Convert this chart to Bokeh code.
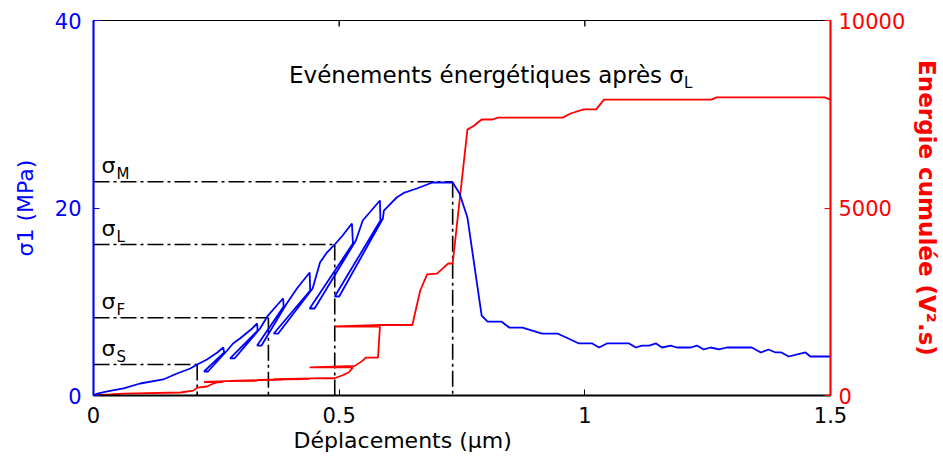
import math
from bokeh.plotting import figure
from bokeh.models import Range1d, LinearAxis, FixedTicker, Label, Title
from bokeh.embed import file_html
from bokeh.resources import INLINE

# ---------------- data ----------------
# stress curve (blue), displacement in µm, stress in MPa
disp_sigma = [0.000, 0.008, 0.028, 0.061, 0.095, 0.142, 0.170, 0.197, 0.211, 0.231, 0.252, 0.264,
              0.266, 0.225, 0.233, 0.272,
              0.284, 0.298, 0.323, 0.333,
              0.334, 0.278, 0.287, 0.339,
              0.355, 0.373, 0.386,
              0.387, 0.333, 0.342, 0.392,
              0.414, 0.440,
              0.441, 0.367, 0.376, 0.446,
              0.461, 0.475, 0.491, 0.507, 0.526,
              0.528, 0.440, 0.450, 0.534,
              0.548, 0.562, 0.583,
              0.584, 0.491, 0.500, 0.589,
              0.591, 0.617, 0.633, 0.658, 0.690, 0.731, 0.745, 0.761, 0.790, 0.802,
              0.830, 0.846, 0.873, 0.913, 0.944, 0.962, 0.988, 1.015, 1.029, 1.045,
              1.090, 1.104, 1.116, 1.131, 1.145, 1.157, 1.175, 1.187, 1.216, 1.228,
              1.242, 1.256, 1.273, 1.289, 1.340, 1.358, 1.374, 1.388, 1.400, 1.415,
              1.449, 1.459, 1.500]
sigma1 = [0.00, 0.21, 0.43, 0.75, 1.28, 1.71, 2.35, 2.88, 3.31, 3.84, 4.59, 5.12,
          4.59, 2.56, 2.56, 4.80,
          5.55, 6.08, 7.15, 7.68,
          6.93, 3.95, 3.95, 7.15,
          8.53, 9.60, 10.35,
          9.49, 5.33, 5.33, 9.71,
          11.41, 13.12,
          11.20, 6.61, 6.61, 11.41,
          14.19, 15.25, 16.11, 17.07, 18.35,
          16.21, 9.28, 9.28, 16.53,
          18.67, 19.52, 20.80,
          18.67, 10.56, 10.56, 18.88,
          19.73, 21.12, 21.65, 22.08, 22.72, 22.72, 21.55, 18.99, 8.53, 7.89,
          7.89, 7.25, 7.25, 6.61, 6.61, 6.19, 5.55, 5.55, 5.12, 5.55,
          5.55, 5.12, 5.33, 5.33, 5.55, 5.12, 5.33, 5.12, 5.12, 5.33,
          4.91, 5.12, 4.91, 5.12, 5.12, 4.59, 4.91, 4.59, 4.59, 4.16,
          4.59, 4.16, 4.16]

# cumulated energy curve (red), V².s
disp_energy = [0.000, 0.061, 0.177, 0.203, 0.211, 0.231, 0.244, 0.252, 0.264, 0.225,
               0.270, 0.333, 0.278, 0.339, 0.386, 0.333, 0.390, 0.440, 0.367, 0.444,
               0.491, 0.507, 0.520, 0.528, 0.440, 0.532, 0.548, 0.554, 0.579, 0.583,
               0.491, 0.587, 0.649, 0.651, 0.665, 0.679, 0.699, 0.711, 0.722, 0.731,
               0.761, 0.775, 0.790, 0.812, 0.823, 0.955, 0.971, 0.998, 1.023, 1.039,
               1.258, 1.268, 1.488, 1.500]
energy = [0, 50, 80, 130, 210, 240, 320, 350, 360, 360,
          385, 390, 390, 410, 415, 415, 430, 435, 435, 455,
          460, 540, 620, 750, 750, 790, 930, 1010, 1010, 1840,
          1840, 1880, 1880, 2000, 2800, 3230, 3250, 3390, 3520, 3520,
          7090, 7200, 7360, 7360, 7410, 7410, 7520, 7630, 7630, 7890,
          7890, 7950, 7950, 7890]

# characteristic stress levels
level_names = ["S", "F", "L", "M"]
level_sigma = [3.3, 8.3, 16.1, 22.8]
level_disp = [0.211, 0.356, 0.491, 0.731]

x_ticks = [0, 0.5, 1, 1.5]
x_tick_labels = ["0", "0.5", "1", "1.5"]
top_ticks = [0.5, 1.0]
left_ticks = [0, 20, 40]
right_ticks = [0, 5000, 10000]

FONT = "DejaVu Sans"
BLUE = "#0000FF"
RED = "#FF0000"

p = figure(width=943, height=459, x_range=Range1d(0, 1.5), y_range=Range1d(0, 40),
           output_backend="svg", toolbar_location=None,
           min_border_left=93, min_border_right=111, min_border_top=20, min_border_bottom=64)
p.extra_y_ranges = {"energy": Range1d(0, 10000)}
p.xgrid.visible = False
p.ygrid.visible = False
p.outline_line_color = "black"
p.outline_line_width = 1.2
p.background_fill_color = "white"
p.border_fill_color = "white"

# bottom axis
xa = p.xaxis[0]
xa.ticker = FixedTicker(ticks=x_ticks)
xa.major_label_overrides = {t: l for t, l in zip(x_ticks, x_tick_labels)}
xa.minor_tick_line_color = None
xa.major_tick_in = 6
xa.major_tick_out = 0
xa.axis_line_width = 2
xa.axis_line_color = "black"
xa.major_tick_line_color = "black"
xa.major_label_text_font = FONT
xa.major_label_text_font_size = "21px"
xa.major_label_text_color = "black"
xa.major_label_standoff = 11

# x axis title, left of centre as in the original
p.add_layout(Title(text="Déplacements (µm)", align="left", offset=200, standoff=0,
                   text_font=FONT, text_font_size="22px", text_font_style="normal",
                   text_color="black"), "below")

# left axis
ya = p.yaxis[0]
ya.ticker = FixedTicker(ticks=left_ticks)
ya.minor_tick_line_color = None
ya.major_tick_in = 6
ya.major_tick_out = 0
ya.axis_line_color = BLUE
ya.axis_line_width = 2
ya.major_tick_line_color = BLUE
ya.major_label_text_color = BLUE
ya.major_label_text_font = FONT
ya.major_label_text_font_size = "21px"
ya.major_label_standoff = 12
ya.axis_label = "σ1 (MPa)"
ya.axis_label_text_color = BLUE
ya.axis_label_text_font = FONT
ya.axis_label_text_font_size = "22px"
ya.axis_label_text_font_style = "normal"
ya.axis_label_standoff = 14

# right axis
ra = LinearAxis(y_range_name="energy", ticker=FixedTicker(ticks=right_ticks))
ra.minor_tick_line_color = None
ra.major_tick_in = 6
ra.major_tick_out = 0
ra.axis_line_color = RED
ra.axis_line_width = 2
ra.major_tick_line_color = RED
ra.major_label_text_color = RED
ra.major_label_text_font = FONT
ra.major_label_text_font_size = "21px"
ra.major_label_standoff = 8
ra.axis_label = "Energie cumulée (V².s)"
ra.axis_label_text_color = RED
ra.axis_label_text_font = FONT
ra.axis_label_text_font_size = "23px"
ra.axis_label_text_font_style = "bold"
ra.axis_label_standoff = 6
p.add_layout(ra, "right")

# top inward ticks
p.scatter(x=top_ticks, y=[40] * len(top_ticks), marker="dash", angle=math.pi / 2,
          size=12, line_color="black", line_width=1.4)

# dash-dot reference lines
DASH = "16 4 3 4"
p.segment(x0=[0] * len(level_sigma), y0=level_sigma, x1=level_disp, y1=level_sigma,
          line_color="black", line_width=1.6, line_dash=DASH)
p.segment(x0=level_disp, y0=level_sigma, x1=level_disp, y1=[0] * len(level_sigma),
          line_color="black", line_width=1.6, line_dash=DASH)

# curves
p.line(disp_energy, energy, y_range_name="energy", line_color=RED, line_width=1.8)
p.line(disp_sigma, sigma1, line_color=BLUE, line_width=1.8)

# sigma labels
for name, s in zip(level_names, level_sigma):
    p.add_layout(Label(x=0, y=s, x_offset=8, y_offset=16, text="σ", text_color="black",
                       text_font=FONT, text_font_size="22px", text_baseline="alphabetic"))
    p.add_layout(Label(x=0, y=s, x_offset=23, y_offset=8, text=name, text_color="black",
                       text_font=FONT, text_font_size="15px", text_baseline="alphabetic"))

# annotation text
PXX = 1.5 / 739.0
PXY = 40.0 / 375.0
ann_x = 592 * PXX
p.add_layout(Label(x=ann_x, y=321 * PXY, text="Evénements énergétiques après σ",
                   text_color="black", text_font=FONT, text_font_size="23px",
                   text_align="right", text_baseline="alphabetic"))
p.add_layout(Label(x=ann_x, y=313 * PXY, text="L", text_color="black",
                   text_font=FONT, text_font_size="15px", text_align="left",
                   text_baseline="alphabetic"))

open("out.html", "w").write(file_html(p, INLINE))
